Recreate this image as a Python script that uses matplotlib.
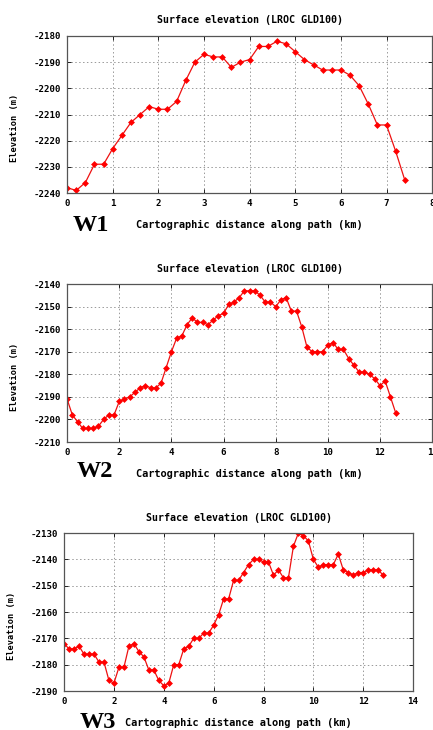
import matplotlib

matplotlib.use("Agg")
import matplotlib.pyplot as plt

plt.rcParams["axes.unicode_minus"] = False

TITLE = "Surface elevation (LROC GLD100)"
XLABEL = "Cartographic distance along path (km)"
YLABEL = "Elevation (m)"

# W1 profile
w1_dist = [0.0, 0.2, 0.4, 0.6, 0.8, 1.0, 1.2, 1.4, 1.6, 1.8, 2.0, 2.2, 2.4,
           2.6, 2.8, 3.0, 3.2, 3.4, 3.6, 3.8, 4.0, 4.2, 4.4, 4.6, 4.8, 5.0,
           5.2, 5.4, 5.6, 5.8, 6.0, 6.2, 6.4, 6.6, 6.8, 7.0, 7.2, 7.4]
w1_elev = [-2238, -2239, -2236, -2229, -2229, -2223, -2218, -2213, -2210,
           -2207, -2208, -2208, -2205, -2197, -2190, -2187, -2188, -2188,
           -2192, -2190, -2189, -2184, -2184, -2182, -2183, -2186, -2189,
           -2191, -2193, -2193, -2193, -2195, -2199, -2206, -2214, -2214,
           -2224, -2235]

# W2 profile
w2_dist = [0.0, 0.2, 0.4, 0.6, 0.8, 1.0, 1.2, 1.4, 1.6, 1.8, 2.0, 2.2, 2.4,
           2.6, 2.8, 3.0, 3.2, 3.4, 3.6, 3.8, 4.0, 4.2, 4.4, 4.6, 4.8, 5.0,
           5.2, 5.4, 5.6, 5.8, 6.0, 6.2, 6.4, 6.6, 6.8, 7.0, 7.2, 7.4, 7.6,
           7.8, 8.0, 8.2, 8.4, 8.6, 8.8, 9.0, 9.2, 9.4, 9.6, 9.8, 10.0, 10.2,
           10.4, 10.6, 10.8, 11.0, 11.2, 11.4, 11.6, 11.8, 12.0, 12.2, 12.4,
           12.6]
w2_elev = [-2191, -2198, -2201, -2204, -2204, -2204, -2203, -2200, -2198,
           -2198, -2192, -2191, -2190, -2188, -2186, -2185, -2186, -2186,
           -2184, -2177, -2170, -2164, -2163, -2158, -2155, -2157, -2157,
           -2158, -2156, -2154, -2153, -2149, -2148, -2146, -2143, -2143,
           -2143, -2145, -2148, -2148, -2150, -2147, -2146, -2152, -2152,
           -2159, -2168, -2170, -2170, -2170, -2167, -2166, -2169, -2169,
           -2173, -2176, -2179, -2179, -2180, -2182, -2185, -2183, -2190,
           -2197]

# W3 profile
w3_dist = [0.0, 0.2, 0.4, 0.6, 0.8, 1.0, 1.2, 1.4, 1.6, 1.8, 2.0, 2.2, 2.4,
           2.6, 2.8, 3.0, 3.2, 3.4, 3.6, 3.8, 4.0, 4.2, 4.4, 4.6, 4.8, 5.0,
           5.2, 5.4, 5.6, 5.8, 6.0, 6.2, 6.4, 6.6, 6.8, 7.0, 7.2, 7.4, 7.6,
           7.8, 8.0, 8.2, 8.4, 8.6, 8.8, 9.0, 9.2, 9.4, 9.6, 9.8, 10.0, 10.2,
           10.4, 10.6, 10.8, 11.0, 11.2, 11.4, 11.6, 11.8, 12.0, 12.2, 12.4,
           12.6, 12.8]
w3_elev = [-2172, -2174, -2174, -2173, -2176, -2176, -2176, -2179, -2179,
           -2186, -2187, -2181, -2181, -2173, -2172, -2175, -2177, -2182,
           -2182, -2186, -2188, -2187, -2180, -2180, -2174, -2173, -2170,
           -2170, -2168, -2168, -2165, -2161, -2155, -2155, -2148, -2148,
           -2145, -2142, -2140, -2140, -2141, -2141, -2146, -2144, -2147,
           -2147, -2135, -2130, -2131, -2133, -2140, -2143, -2142, -2142,
           -2142, -2138, -2144, -2145, -2146, -2145, -2145, -2144, -2144,
           -2144, -2146]

panels = [
    # (x, y, label, ylim, xmax, xstep, axes rect)
    (w1_dist, w1_elev, "W1", (-2240, -2180), 8, 1, [0.155, 0.7356, 0.843, 0.2151]),
    (w2_dist, w2_elev, "W2", (-2210, -2140), 14, 2, [0.155, 0.3945, 0.843, 0.2164]),
    (w3_dist, w3_elev, "W3", (-2190, -2130), 14, 2, [0.148, 0.0534, 0.806, 0.2164]),
]
label_pos = [(73 / 433, 1 - 231 / 730), (77 / 433, 1 - 477 / 730), (80 / 433, 1 - 728 / 730)]

mono = "DejaVu Sans Mono"
fig = plt.figure(figsize=(4.33, 7.30), dpi=100)

for (x, y, name, ylim, xmax, xstep, rect), (lx, ly) in zip(panels, label_pos):
    ax = fig.add_axes(rect)
    ax.plot(x, y, "-", color="#ee1111", lw=0.9)
    ax.plot(x, y, "D", color="#ff0000", ms=3.5, mew=0)
    ax.set_xlim(0, xmax)
    ax.set_ylim(*ylim)
    ax.set_xticks(range(0, xmax + 1, xstep))
    ax.set_yticks(range(ylim[0], ylim[1] + 1, 10))
    ax.grid(True, ls=(0, (1.5, 2.5)), color="#999999", lw=0.7)
    ax.tick_params(direction="in", length=3, width=0.6, pad=4,
                   top=True, right=True, labelsize=6.6)
    for lab in ax.get_xticklabels() + ax.get_yticklabels():
        lab.set_fontfamily(mono)
        lab.set_fontweight("bold")
    for sp in ax.spines.values():
        sp.set_color("#555555")
        sp.set_linewidth(0.9)
    ax.set_title(TITLE, fontfamily=mono, fontweight="bold", fontsize=7.2, pad=9)
    ax.set_xlabel(XLABEL, fontfamily=mono, fontweight="bold", fontsize=7.4, labelpad=9)
    ax.set_ylabel(YLABEL, fontfamily=mono, fontweight="bold", fontsize=6.2)
    ax.yaxis.set_label_coords(-48 / (rect[2] * 433), 0.415)
    fig.text(lx, ly, name, fontfamily="Liberation Serif", fontweight="bold",
             fontsize=17.5, ha="left", va="baseline")

fig.savefig("out.png", dpi=100)
